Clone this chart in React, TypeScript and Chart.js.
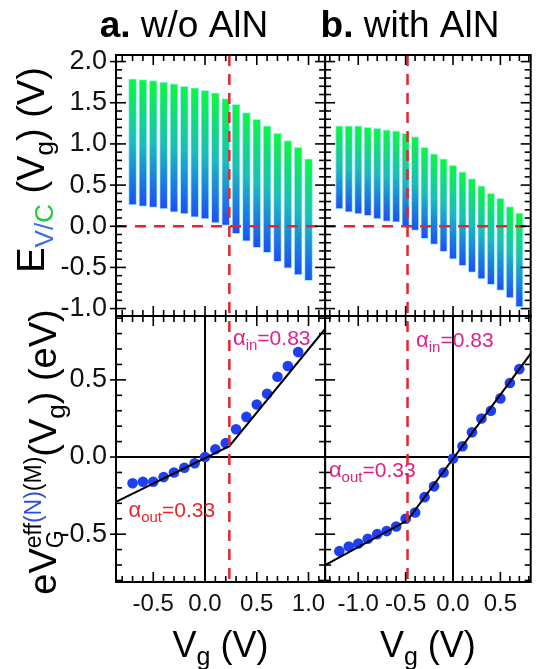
import React, { useEffect, useRef } from 'react';
import { Chart, registerables } from 'chart.js';

Chart.register(...registerables);

const FONT = '"Liberation Sans", Arial, Helvetica, sans-serif';

// ---------- Panel a : w/o AlN ----------
const VG_A = [-0.7, -0.6, -0.5, -0.4, -0.3, -0.2, -0.1, 0.0, 0.1, 0.2, 0.3, 0.4, 0.5, 0.6, 0.7, 0.8, 0.9, 1.0];
const EC_A = [1.79, 1.78, 1.77, 1.75, 1.73, 1.70, 1.68, 1.65, 1.62, 1.55, 1.48, 1.38, 1.30, 1.22, 1.13, 1.04, 0.96, 0.82];
const EV_A = [0.26, 0.24, 0.23, 0.21, 0.17, 0.15, 0.11, 0.09, 0.04, 0.01, -0.09, -0.18, -0.26, -0.32, -0.43, -0.51, -0.59, -0.66];
const VG_A_PTS = [-0.7, -0.6, -0.5, -0.4, -0.3, -0.2, -0.1, 0.0, 0.1, 0.2, 0.3, 0.4, 0.5, 0.6, 0.7, 0.8, 0.9];
const EG_A = [-0.17, -0.16, -0.16, -0.13, -0.10, -0.07, -0.04, 0.0, 0.05, 0.09, 0.18, 0.26, 0.34, 0.41, 0.52, 0.59, 0.68];
const FIT_A_X = [-0.86, 0.235, 1.16];
const FIT_A_Y = [-0.29, 0.07, 0.83];
const KINK_A = 0.235;

// ---------- Panel b : with AlN ----------
const VG_B = [-1.2, -1.1, -1.0, -0.9, -0.8, -0.7, -0.6, -0.5, -0.4, -0.3, -0.2, -0.1, 0.0, 0.1, 0.2, 0.3, 0.4, 0.5, 0.6, 0.7];
const EC_B = [1.22, 1.22, 1.22, 1.20, 1.19, 1.17, 1.16, 1.13, 1.09, 0.96, 0.88, 0.82, 0.74, 0.66, 0.58, 0.49, 0.40, 0.34, 0.24, 0.16];
const EV_B = [0.21, 0.17, 0.15, 0.13, 0.09, 0.06, 0.05, 0.0, -0.05, -0.15, -0.22, -0.31, -0.40, -0.48, -0.56, -0.64, -0.71, -0.78, -0.87, -0.98];
const EG_B = [-0.61, -0.58, -0.56, -0.53, -0.50, -0.48, -0.45, -0.40, -0.36, -0.26, -0.19, -0.10, -0.01, 0.07, 0.16, 0.25, 0.30, 0.38, 0.48, 0.57];
const FIT_B_X = [-1.35, -0.48, 0.82];
const FIT_B_Y = [-0.70, -0.41, 0.67];
const KINK_B = -0.48;

// ---------- axes ----------
const X_RANGE_A = [-0.86, 1.16];
const X_RANGE_B = [-1.35, 0.82];
const Y_RANGE_TOP = [-1.09, 2.08];
const Y_RANGE_BOT = [-0.81, 0.914];
const MAJOR_STEP = 0.5;
const MINOR_STEP = 0.1;

// ---------- text ----------
const TITLE_A = ['a.', ' w/o AlN'];
const TITLE_B = ['b.', ' with AlN'];
const ALPHA_IN = '=0.83';
const ALPHA_OUT = '=0.33';

// annotation anchors (data coords)
const ANNOTATIONS = [
  { xAxis: 'xL', x: 0.27, y: 0.725, sub: 'in', val: ALPHA_IN, color: '#e0208a' },
  { xAxis: 'xL', x: -0.74, y: -0.39, sub: 'out', val: ALPHA_OUT, color: '#e8262c' },
  { xAxis: 'xR', x: -0.39, y: 0.71, sub: 'in', val: ALPHA_IN, color: '#e0208a' },
  { xAxis: 'xR', x: -1.31, y: -0.13, sub: 'out', val: ALPHA_OUT, color: '#e0207e' },
];

const RED = '#e8242c';
const DOT_BLUE = '#1e40f2';

type Seg = { t: string; size: number; color?: string; dy?: number; bold?: boolean; mark?: boolean; back?: boolean };

const fontStr = (s: Seg) => `${s.bold ? 'bold ' : ''}${s.size}px ${FONT}`;

function drawRich(ctx: CanvasRenderingContext2D, segs: Seg[], x: number, y: number, angle: number, center: boolean) {
  ctx.save();
  ctx.translate(x, y);
  ctx.rotate(angle);
  ctx.textBaseline = 'alphabetic';
  ctx.textAlign = 'left';
  const pos: number[] = [];
  let cur = 0, markX = 0;
  for (const s of segs) {
    ctx.font = fontStr(s);
    const w = ctx.measureText(s.t).width;
    if (s.mark) markX = cur;
    if (s.back) {
      const endA = cur;
      cur = markX;
      pos.push(cur);
      cur = Math.max(cur + w, endA);
      continue;
    }
    pos.push(cur);
    cur += w;
  }
  const off = center ? -cur / 2 : 0;
  segs.forEach((s, i) => {
    ctx.font = fontStr(s);
    ctx.fillStyle = s.color || '#000';
    ctx.fillText(s.t, pos[i] + off, s.dy || 0);
  });
  ctx.restore();
}

function tickVals(min: number, max: number, step: number) {
  const out: number[] = [];
  const k0 = Math.ceil(min / step - 1e-9);
  const k1 = Math.floor(max / step + 1e-9);
  for (let k = k0; k <= k1; k++) out.push(Math.round(k * step * 1e6) / 1e6);
  return out;
}
const isMajor = (v: number) => Math.abs(v / MAJOR_STEP - Math.round(v / MAJOR_STEP)) < 1e-6;

function seg(ctx: CanvasRenderingContext2D, x1: number, y1: number, x2: number, y2: number) {
  ctx.beginPath();
  ctx.moveTo(x1, y1);
  ctx.lineTo(x2, y2);
  ctx.stroke();
}

const panelsPlugin = {
  id: 'panels',
  beforeDatasetsDraw(chart: any) {
    const ctx = chart.ctx as CanvasRenderingContext2D;
    const yB = chart.scales.yB;
    ctx.save();
    ctx.strokeStyle = '#000';
    ctx.lineWidth = 2;
    for (const id of ['xL', 'xR']) {
      const xs = chart.scales[id];
      const y0 = yB.getPixelForValue(0);
      const x0 = xs.getPixelForValue(0);
      seg(ctx, xs.left, y0, xs.right, y0);
      seg(ctx, x0, yB.top, x0, yB.bottom);
    }
    ctx.restore();
  },
  afterDatasetsDraw(chart: any) {
    const ctx = chart.ctx as CanvasRenderingContext2D;
    const yT = chart.scales.yT, yB = chart.scales.yB;
    const cols = [{ id: 'xL', kink: KINK_A }, { id: 'xR', kink: KINK_B }];
    // red dashed guide lines
    ctx.save();
    ctx.strokeStyle = RED;
    ctx.lineWidth = 2.5;
    ctx.setLineDash([11, 8]);
    for (const c of cols) {
      const xs = chart.scales[c.id];
      const xk = xs.getPixelForValue(c.kink);
      seg(ctx, xk, yT.top, xk, yB.bottom);
      const y0 = yT.getPixelForValue(0);
      seg(ctx, xs.left, y0, xs.right, y0);
    }
    ctx.restore();

    // frames and ticks
    ctx.save();
    ctx.setLineDash([]);
    ctx.strokeStyle = '#000';
    ctx.lineCap = 'butt';
    for (const c of cols) {
      const xs = chart.scales[c.id];
      const xmin = X_RANGES[c.id][0], xmax = X_RANGES[c.id][1];
      for (const row of [{ ys: yT, r: Y_RANGE_TOP }, { ys: yB, r: Y_RANGE_BOT }]) {
        const ys = row.ys;
        ctx.lineWidth = 2;
        ctx.strokeRect(xs.left, ys.top, xs.right - xs.left, ys.bottom - ys.top);
        ctx.lineWidth = 1.6;
        for (const v of tickVals(xmin, xmax, MINOR_STEP)) {
          const px = xs.getPixelForValue(v);
          const len = isMajor(v) ? 10 : 6;
          seg(ctx, px, ys.bottom, px, ys.bottom - len);
          seg(ctx, px, ys.top, px, ys.top + len);
        }
        for (const v of tickVals(row.r[0], row.r[1], MINOR_STEP)) {
          const py = ys.getPixelForValue(v);
          const maj = isMajor(v);
          const len = maj ? 10 : 6;
          const out = c.id === 'xL' && maj ? 6 : 0;
          seg(ctx, xs.left - out, py, xs.left + len, py);
          seg(ctx, xs.right, py, xs.right - len, py);
        }
      }
    }
    ctx.restore();

    // alpha annotations
    for (const a of ANNOTATIONS) {
      const xs = chart.scales[a.xAxis];
      drawRich(ctx, [
        { t: '\u03b1', size: 22, color: a.color },
        { t: a.sub, size: 15, color: a.color, dy: 5 },
        { t: a.val, size: 21, color: a.color },
      ], xs.getPixelForValue(a.x), yB.getPixelForValue(a.y), 0, false);
    }
  },
  afterDraw(chart: any) {
    const ctx = chart.ctx as CanvasRenderingContext2D;
    const xL = chart.scales.xL, xR = chart.scales.xR;
    // panel titles
    drawRich(ctx, [{ t: TITLE_A[0], size: 37, bold: true }, { t: TITLE_A[1], size: 37 }], 184, 37, 0, true);
    drawRich(ctx, [{ t: TITLE_B[0], size: 37, bold: true }, { t: TITLE_B[1], size: 37 }], 410, 37, 0, true);
    // x titles
    const xt: Seg[] = [{ t: 'V', size: 36 }, { t: 'g', size: 25, dy: 8 }, { t: ' (V)', size: 36 }];
    drawRich(ctx, xt, (xL.left + xL.right) / 2, 657, 0, true);
    drawRich(ctx, xt, (xR.left + xR.right) / 2, 657, 0, true);
    // y titles
    drawRich(ctx, [
      { t: 'E', size: 38 },
      { t: 'V/', size: 26, color: '#3d6be6', dy: 9 },
      { t: 'C', size: 26, color: '#22c93a', dy: 9 },
      { t: ' (V', size: 38 },
      { t: 'g', size: 26, dy: 9 },
      { t: ') (V)', size: 38 },
    ], 44, 170, -Math.PI / 2, true);
    drawRich(ctx, [
      { t: 'eV', size: 38 },
      { t: 'eff', size: 23, dy: -15, mark: true },
      { t: '(N)', size: 23, dy: -15, color: '#2a4fe0' },
      { t: '(M)', size: 23, dy: -15 },
      { t: 'G', size: 23, dy: 7, back: true },
      { t: '(V', size: 38 },
      { t: 'g', size: 26, dy: 9 },
      { t: ') (eV)', size: 38 },
    ], 56, 452, -Math.PI / 2, true);
  },
};

const X_RANGES: Record<string, number[]> = { xL: X_RANGE_A, xR: X_RANGE_B };

function barGradient(yId: string) {
  return (c: any) => {
    const raw = c.raw;
    if (!raw || !c.chart.scales[yId]) return '#20b0c0';
    const ys = c.chart.scales[yId];
    const top = ys.getPixelForValue(raw.y[1]);
    const bot = ys.getPixelForValue(raw.y[0]);
    if (!isFinite(top) || !isFinite(bot) || top === bot) return '#20b0c0';
    const g = c.chart.ctx.createLinearGradient(0, top, 0, bot);
    g.addColorStop(0, '#0cf83c');
    g.addColorStop(0.5, '#1cbcbc');
    g.addColorStop(1, '#1f4cf8');
    return g;
  };
}

const fmt = (v: any) => Number(v).toFixed(1);

function xScale(range: number[], weight: number) {
  return {
    type: 'linear', axis: 'x', position: 'bottom', stack: 'cols', stackWeight: weight,
    min: range[0], max: range[1], offset: false,
    grid: { display: false, drawTicks: false, offset: false },
    border: { display: false },
    ticks: {
      stepSize: MAJOR_STEP, includeBounds: false, autoSkip: false, maxRotation: 0, minRotation: 0,
      padding: 8, color: '#111', font: { family: FONT, size: 24 }, callback: fmt,
    },
    afterFit: (s: any) => { s.height = 87; s.paddingLeft = 0; s.paddingRight = 0; },
  };
}
function yScale(range: number[], weight: number) {
  return {
    type: 'linear', axis: 'y', position: 'left', stack: 'rows', stackWeight: weight,
    min: range[0], max: range[1],
    grid: { display: false, drawTicks: false },
    border: { display: false },
    ticks: {
      stepSize: MAJOR_STEP, includeBounds: false, autoSkip: false,
      padding: 9, color: '#111', font: { family: FONT, size: 27 }, callback: fmt,
    },
    afterFit: (s: any) => { s.width = 116; s.paddingTop = 0; s.paddingBottom = 0; },
  };
}

export default function App() {
  const ref = useRef<HTMLCanvasElement>(null);
  useEffect(() => {
    if (!ref.current) return;
    const chart = new Chart(ref.current, {
      type: 'bar',
      data: {
        datasets: [
          {
            type: 'line', xAxisID: 'xL', yAxisID: 'yB', order: 0,
            data: FIT_A_X.map((x, i) => ({ x, y: FIT_A_Y[i] })),
            borderColor: '#000', borderWidth: 2, pointRadius: 0, fill: false, tension: 0,
          },
          {
            type: 'line', xAxisID: 'xR', yAxisID: 'yB', order: 0,
            data: FIT_B_X.map((x, i) => ({ x, y: FIT_B_Y[i] })),
            borderColor: '#000', borderWidth: 2, pointRadius: 0, fill: false, tension: 0,
          },
          {
            type: 'scatter', xAxisID: 'xL', yAxisID: 'yB', order: 1,
            data: VG_A_PTS.map((x, i) => ({ x, y: EG_A[i] })),
            backgroundColor: DOT_BLUE, borderWidth: 0, pointRadius: 5.3,
          },
          {
            type: 'scatter', xAxisID: 'xR', yAxisID: 'yB', order: 1,
            data: VG_B.map((x, i) => ({ x, y: EG_B[i] })),
            backgroundColor: DOT_BLUE, borderWidth: 0, pointRadius: 5.3,
          },
          {
            type: 'bar', xAxisID: 'xL', yAxisID: 'yT', order: 2, grouped: false,
            data: VG_A.map((x, i) => ({ x, y: [EV_A[i], EC_A[i]] })),
            backgroundColor: barGradient('yT'), borderColor: 'rgba(150,235,250,0.9)', borderWidth: 1,
            borderSkipped: false, barThickness: 8,
          },
          {
            type: 'bar', xAxisID: 'xR', yAxisID: 'yT', order: 2, grouped: false,
            data: VG_B.map((x, i) => ({ x, y: [EV_B[i], EC_B[i]] })),
            backgroundColor: barGradient('yT'), borderColor: 'rgba(150,235,250,0.9)', borderWidth: 1,
            borderSkipped: false, barThickness: 7.5,
          },
        ] as any,
      },
      options: {
        responsive: false,
        animation: false,
        devicePixelRatio: 1,
        layout: { padding: { left: 0, right: 2.5, top: 55, bottom: 0 } },
        plugins: { legend: { display: false }, tooltip: { enabled: false }, title: { display: false } },
        scales: {
          xL: xScale(X_RANGE_A, 210.5),
          xR: xScale(X_RANGE_B, 207),
          yB: yScale(Y_RANGE_BOT, 266),
          yT: yScale(Y_RANGE_TOP, 261),
        } as any,
      },
      plugins: [panelsPlugin],
    });
    return () => chart.destroy();
  }, []);
  return (
    <div style={{ position: 'absolute', left: 0, top: 0, width: 536, height: 669, background: '#fff' }}>
      <canvas ref={ref} width={536} height={669} style={{ display: 'block', width: 536, height: 669 }} />
    </div>
  );
}
